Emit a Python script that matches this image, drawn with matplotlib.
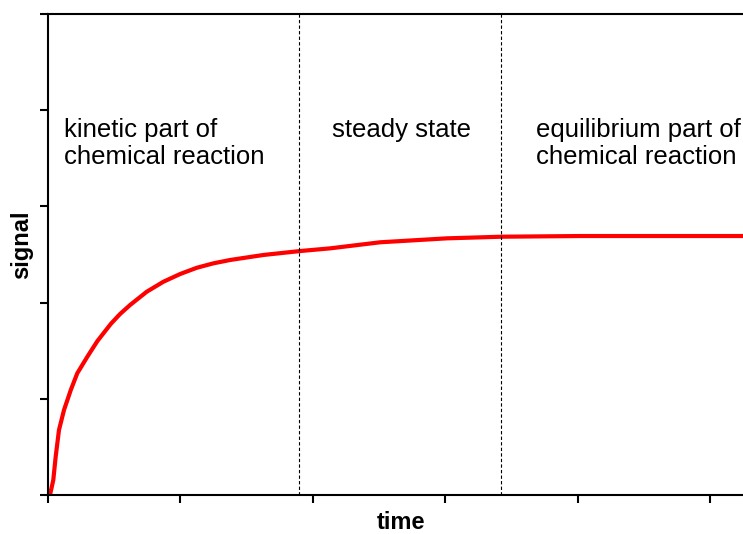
import matplotlib.pyplot as plt

# curve (arbitrary units)
time = [0.015, 0.040, 0.058, 0.083, 0.121, 0.172, 0.221, 0.297, 0.373, 0.474,
        0.544, 0.620, 0.746, 0.872, 0.998, 1.124, 1.249, 1.376, 1.627, 1.905,
        2.132, 2.509, 3.014, 3.429, 4.020, 5.253]
signal = [0.0, 0.156, 0.398, 0.676, 0.884, 1.091, 1.265, 1.437, 1.600, 1.778,
          1.881, 1.975, 2.113, 2.217, 2.297, 2.362, 2.408, 2.443, 2.495, 2.536,
          2.564, 2.627, 2.668, 2.685, 2.692, 2.692]

# borders between the three phases
phase_borders = [1.897, 3.424]
phase_labels = ['kinetic part of\nchemical reaction', 'steady state',
                'equilibrium part of\nchemical reaction']
label_x = [0.121, 2.144, 3.689]

x_ticks = [0, 1, 2, 3, 4, 5]
y_ticks = [0, 1, 2, 3, 4, 5]

plt.rcParams['font.family'] = ['Liberation Sans', 'DejaVu Sans']

fig = plt.figure(figsize=(7.43, 5.34), dpi=100)
ax = fig.add_axes([48 / 743, 39 / 534, 1 - 48 / 743, 481 / 534])

ax.plot(time, signal, color='#ff0000', linewidth=3.0,
        solid_capstyle='butt', solid_joinstyle='round')

for b in phase_borders:
    ax.axvline(b, color='black', linewidth=0.8, linestyle=(0, (3, 2)))

for x, text in zip(label_x, phase_labels):
    ax.text(x, 3.92, text, fontsize=18.5, va='top', ha='left', linespacing=1.15)

ax.set_xlim(0, 5.25)
ax.set_ylim(0, 5)
ax.set_xticks(x_ticks)
ax.set_yticks(y_ticks)
ax.set_xticklabels([])
ax.set_yticklabels([])
ax.tick_params(direction='out', length=6, width=1.5, color='black')

ax.spines['right'].set_visible(False)
for side in ['top', 'left', 'bottom']:
    ax.spines[side].set_linewidth(1.5)
    ax.spines[side].set_color('black')

fig.text(401 / 743, 1 - 529 / 534, 'time', fontsize=17, fontweight='bold',
         ha='center', va='baseline')
fig.text(21.5 / 743, 1 - 245 / 534, 'signal', fontsize=17, fontweight='bold',
         ha='center', va='center', rotation=90)

plt.savefig('out.png', dpi=100)
